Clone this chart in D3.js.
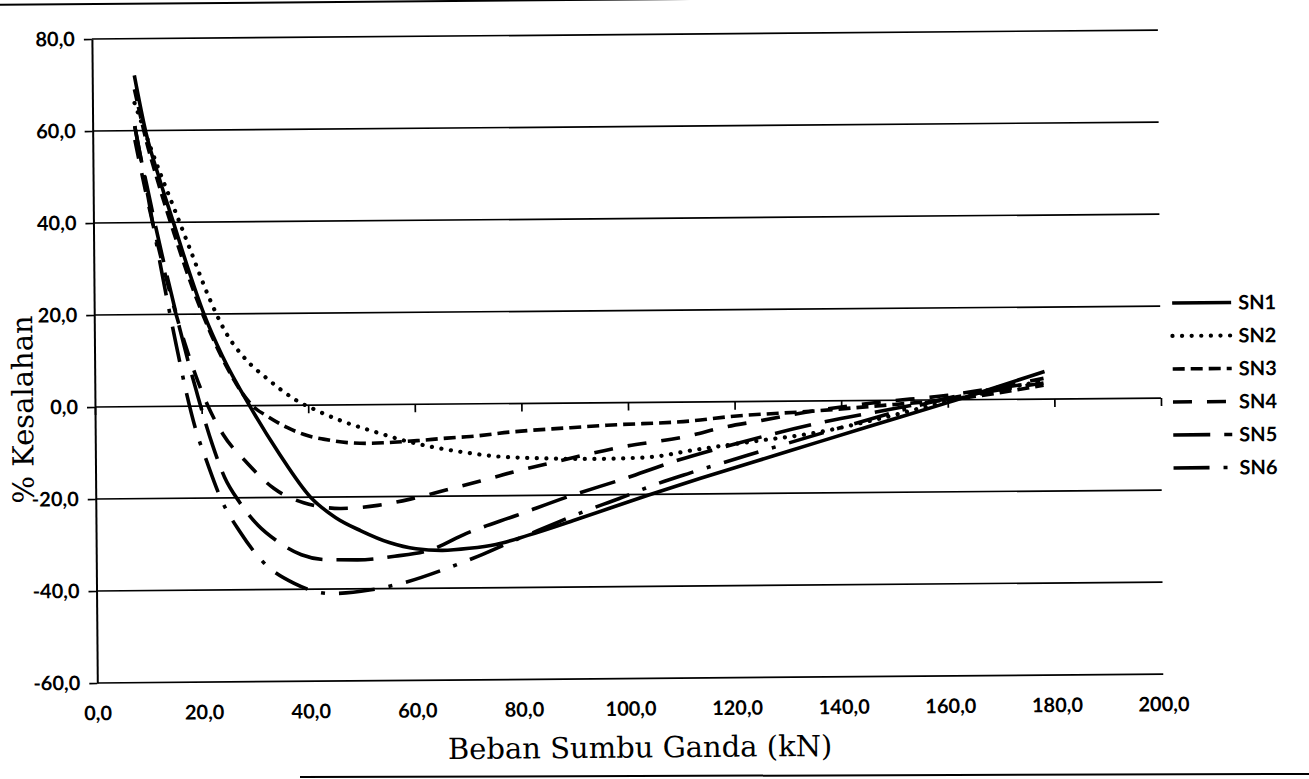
<!DOCTYPE html>
<html><head><meta charset="utf-8">
<script src="https://cdn.jsdelivr.net/npm/d3@7"></script>
<style>html,body{margin:0;padding:0;background:#fff;} svg{display:block}</style>
</head><body><svg id="c" width="1309" height="779"></svg>
<script>
// ---- data ----
const xTicks = [0, 20, 40, 60, 80, 100, 120, 140, 160, 180, 200];
const yTicks = [-60, -40, -20, 0, 20, 40, 60, 80];
const seriesNames = ["SN1", "SN2", "SN3", "SN4", "SN5", "SN6"];
const xTitle = "Beban Sumbu Ganda (kN)";
const yTitle = "% Kesalahan";

const sn1X = [7.9, 10, 12.5, 15, 17.5, 20.6, 24, 29, 34.5, 40.3, 45, 49.7, 55, 60, 65, 70, 75, 81, 90, 103.6, 113.5, 130, 145, 160, 178.2];
const sn1Y = [72, 59.5, 49.3, 40, 30.6, 20, 10.8, 0, -10.5, -20, -24.5, -27.4, -30, -31.4, -31.8, -31.4, -30.6, -28.7, -25.4, -20.2, -16.6, -10.9, -5.7, -0.6, 6];

const sn2X = [7.9, 10, 12.5, 15, 17.8, 21.6, 24.4, 28.5, 32.3, 37.9, 41.3, 46.5, 52.2, 57.8, 63.2, 68.5, 74.7, 82.2, 94.7, 104, 112, 124, 134.7, 147, 160, 178];
const sn2Y = [66, 59, 51, 43.5, 35, 23.5, 16.5, 9.9, 5.9, 1.0, -1.0, -3.6, -5.8, -7.8, -9.3, -10.4, -11.4, -11.9, -12.2, -11.9, -10.5, -8.6, -7, -4, -0.3, 4];

const sn3X = [7.9, 10, 12.5, 15, 17.5, 20, 22.5, 25, 27.5, 30, 32.3, 36, 39.8, 42.8, 47.3, 51.6, 55.9, 60.4, 66, 70.4, 77.9, 88.6, 96, 112, 118.6, 134.7, 150, 160, 178];
const sn3Y = [69, 58, 47.5, 38, 29, 21, 14, 8, 3, -0.5, -2.3, -4.8, -6.6, -7.4, -8.2, -8.4, -8.2, -7.9, -7.4, -7.1, -6.2, -5.4, -4.9, -4.1, -3.3, -2.2, -0.9, 0, 3];

const sn4X = [7.9, 9, 11, 13, 15, 17, 19, 21.2, 24, 28.5, 33.4, 39, 46, 52.9, 59, 65.7, 72.2, 78.4, 85.4, 98, 112, 117.3, 124.8, 133.6, 147, 160, 178];
const sn4Y = [58, 51.5, 40.5, 30.5, 21.5, 13.5, 6.5, 0, -6.2, -12.5, -18, -21.2, -22.5, -21.9, -20.6, -18.7, -16.8, -14.9, -13, -9.8, -7.2, -5.7, -4.2, -2.4, -0.4, 1.0, 4.5];

const sn5X = [7.9, 9, 10, 11.5, 13, 14.5, 16, 17.5, 19, 20.3, 22, 24.2, 27, 30.4, 34, 38.5, 43, 49, 56, 62.9, 69.4, 79, 89, 98.5, 108.8, 120, 135, 150, 160, 178];
const sn5Y = [61, 54, 48.5, 40, 32, 24.5, 17, 10, 3.5, -2, -8.5, -15.5, -21, -26, -29.5, -32.5, -33.6, -33.7, -33, -31.6, -28.2, -24.3, -20.2, -16.8, -12.8, -9.2, -5, -1.8, 0.3, 3.5];

const sn6X = [7.9, 10.3, 12.8, 15.4, 17.2, 18.8, 21, 23.5, 27, 31.3, 37.1, 44.1, 51.2, 58.2, 65.1, 71.7, 78.2, 85, 91.6, 98.1, 105.4, 111.6, 125, 140, 150, 160, 178];
const sn6Y = [61, 45.5, 28.8, 13, 2.8, -4.8, -12.4, -20.2, -27.4, -34, -38.7, -41, -40.3, -38.6, -36, -33.1, -29.9, -26.7, -23.6, -20.9, -17.7, -15.4, -10.8, -5.8, -2.6, 0.4, 3.8];

const seriesX = [sn1X, sn2X, sn3X, sn4X, sn5X, sn6X];
const seriesY = [sn1Y, sn2Y, sn3Y, sn4Y, sn5Y, sn6Y];

// ---- styles ----
const dashes = [null, "0.1 9.5", "12 6", "19 15", "37 14", "36 14 4 14"];
const caps = ["butt", "round", "butt", "butt", "butt", "butt"];
const widths = [3.6, 4.2, 3.6, 3.6, 3.6, 3.6];
const tickFont = "Lato, 'Open Sans', sans-serif";
const titleFont = "'DejaVu Serif', 'Liberation Serif', serif";
const fmt = d => d.toFixed(1).replace(".", ",");

const svg = d3.select("#c");
svg.append("rect").attr("width", 1309).attr("height", 779).attr("fill", "#fff");

const x = d3.scaleLinear().domain([0, 200]).range([95, 1161]);
const y = d3.scaleLinear().domain([-60, 80]).range([683, 39]);

const g = svg.append("g").attr("transform", "rotate(-0.48,95,409)");

// scan border line at top
g.append("line").attr("x1", -10).attr("x2", 1330).attr("y1", 4).attr("y2", 4)
  .attr("stroke", "#000").attr("stroke-width", 2);

// gridlines
g.append("g").selectAll("line").data(yTicks).join("line")
  .attr("x1", x(0)).attr("x2", x(200))
  .attr("y1", d => y(d)).attr("y2", d => y(d))
  .attr("stroke", "#000").attr("stroke-width", 1.7);

// y axis
const ya = g.append("g").attr("transform", `translate(${x(0)},0)`)
  .call(d3.axisLeft(y).tickValues(yTicks).tickSize(8).tickSizeOuter(0).tickPadding(9).tickFormat(fmt));
ya.select(".domain").attr("stroke", "#000").attr("stroke-width", 2);
ya.selectAll(".tick line").attr("stroke", "#000").attr("stroke-width", 1.7);
ya.selectAll("text").attr("font-family", tickFont).attr("font-weight", 700)
  .attr("font-size", 20).attr("fill", "#000");

// x axis on zero line (ticks only)
const xa = g.append("g").attr("transform", `translate(0,${y(0)})`)
  .call(d3.axisBottom(x).tickValues(xTicks).tickSize(8).tickSizeOuter(0).tickFormat(""));
xa.select(".domain").remove();
xa.selectAll(".tick line").attr("stroke", "#000").attr("stroke-width", 1.7);

// x labels at bottom
const xb = g.append("g").attr("transform", `translate(0,${y(-60)})`)
  .call(d3.axisBottom(x).tickValues(xTicks).tickSize(0).tickPadding(23).tickFormat(fmt));
xb.select(".domain").remove();
xb.selectAll("text").attr("font-family", tickFont).attr("font-weight", 700)
  .attr("font-size", 20).attr("fill", "#000");

// series
const line = d3.line().x(d => x(d[0])).y(d => y(d[1])).curve(d3.curveMonotoneX);
seriesNames.forEach((name, i) => {
  const pts = seriesX[i].map((v, j) => [v, seriesY[i][j]]);
  g.append("path").datum(pts).attr("d", line)
    .attr("fill", "none").attr("stroke", "#000")
    .attr("stroke-width", widths[i])
    .attr("stroke-linecap", caps[i])
    .attr("stroke-linejoin", "round")
    .attr("stroke-dasharray", dashes[i]);
});

// legend
const lg = g.append("g");
seriesNames.forEach((name, i) => {
  const ly = 312 + i * 33;
  lg.append("line").attr("x1", 1173).attr("x2", 1232).attr("y1", ly).attr("y2", ly)
    .attr("stroke", "#000").attr("stroke-width", widths[i])
    .attr("stroke-linecap", caps[i]).attr("stroke-dasharray", dashes[i]);
  lg.append("text").attr("x", 1239).attr("y", ly).attr("dy", "0.35em")
    .attr("font-family", tickFont).attr("font-weight", 700).attr("font-size", 20)
    .attr("fill", "#000").text(name);
});

// titles
g.append("text").attr("x", 445).attr("y", 762)
  .attr("font-family", titleFont).attr("font-size", 29).attr("fill", "#000").text(xTitle);
g.append("text").attr("transform", "translate(33,503) rotate(-90)")
  .attr("font-family", titleFont).attr("font-size", 29).attr("fill", "#000").text(yTitle);

// scan border line at bottom
svg.append("line").attr("x1", 300).attr("x2", 1309).attr("y1", 777).attr("y2", 774)
  .attr("stroke", "#000").attr("stroke-width", 2);
</script></body></html>
